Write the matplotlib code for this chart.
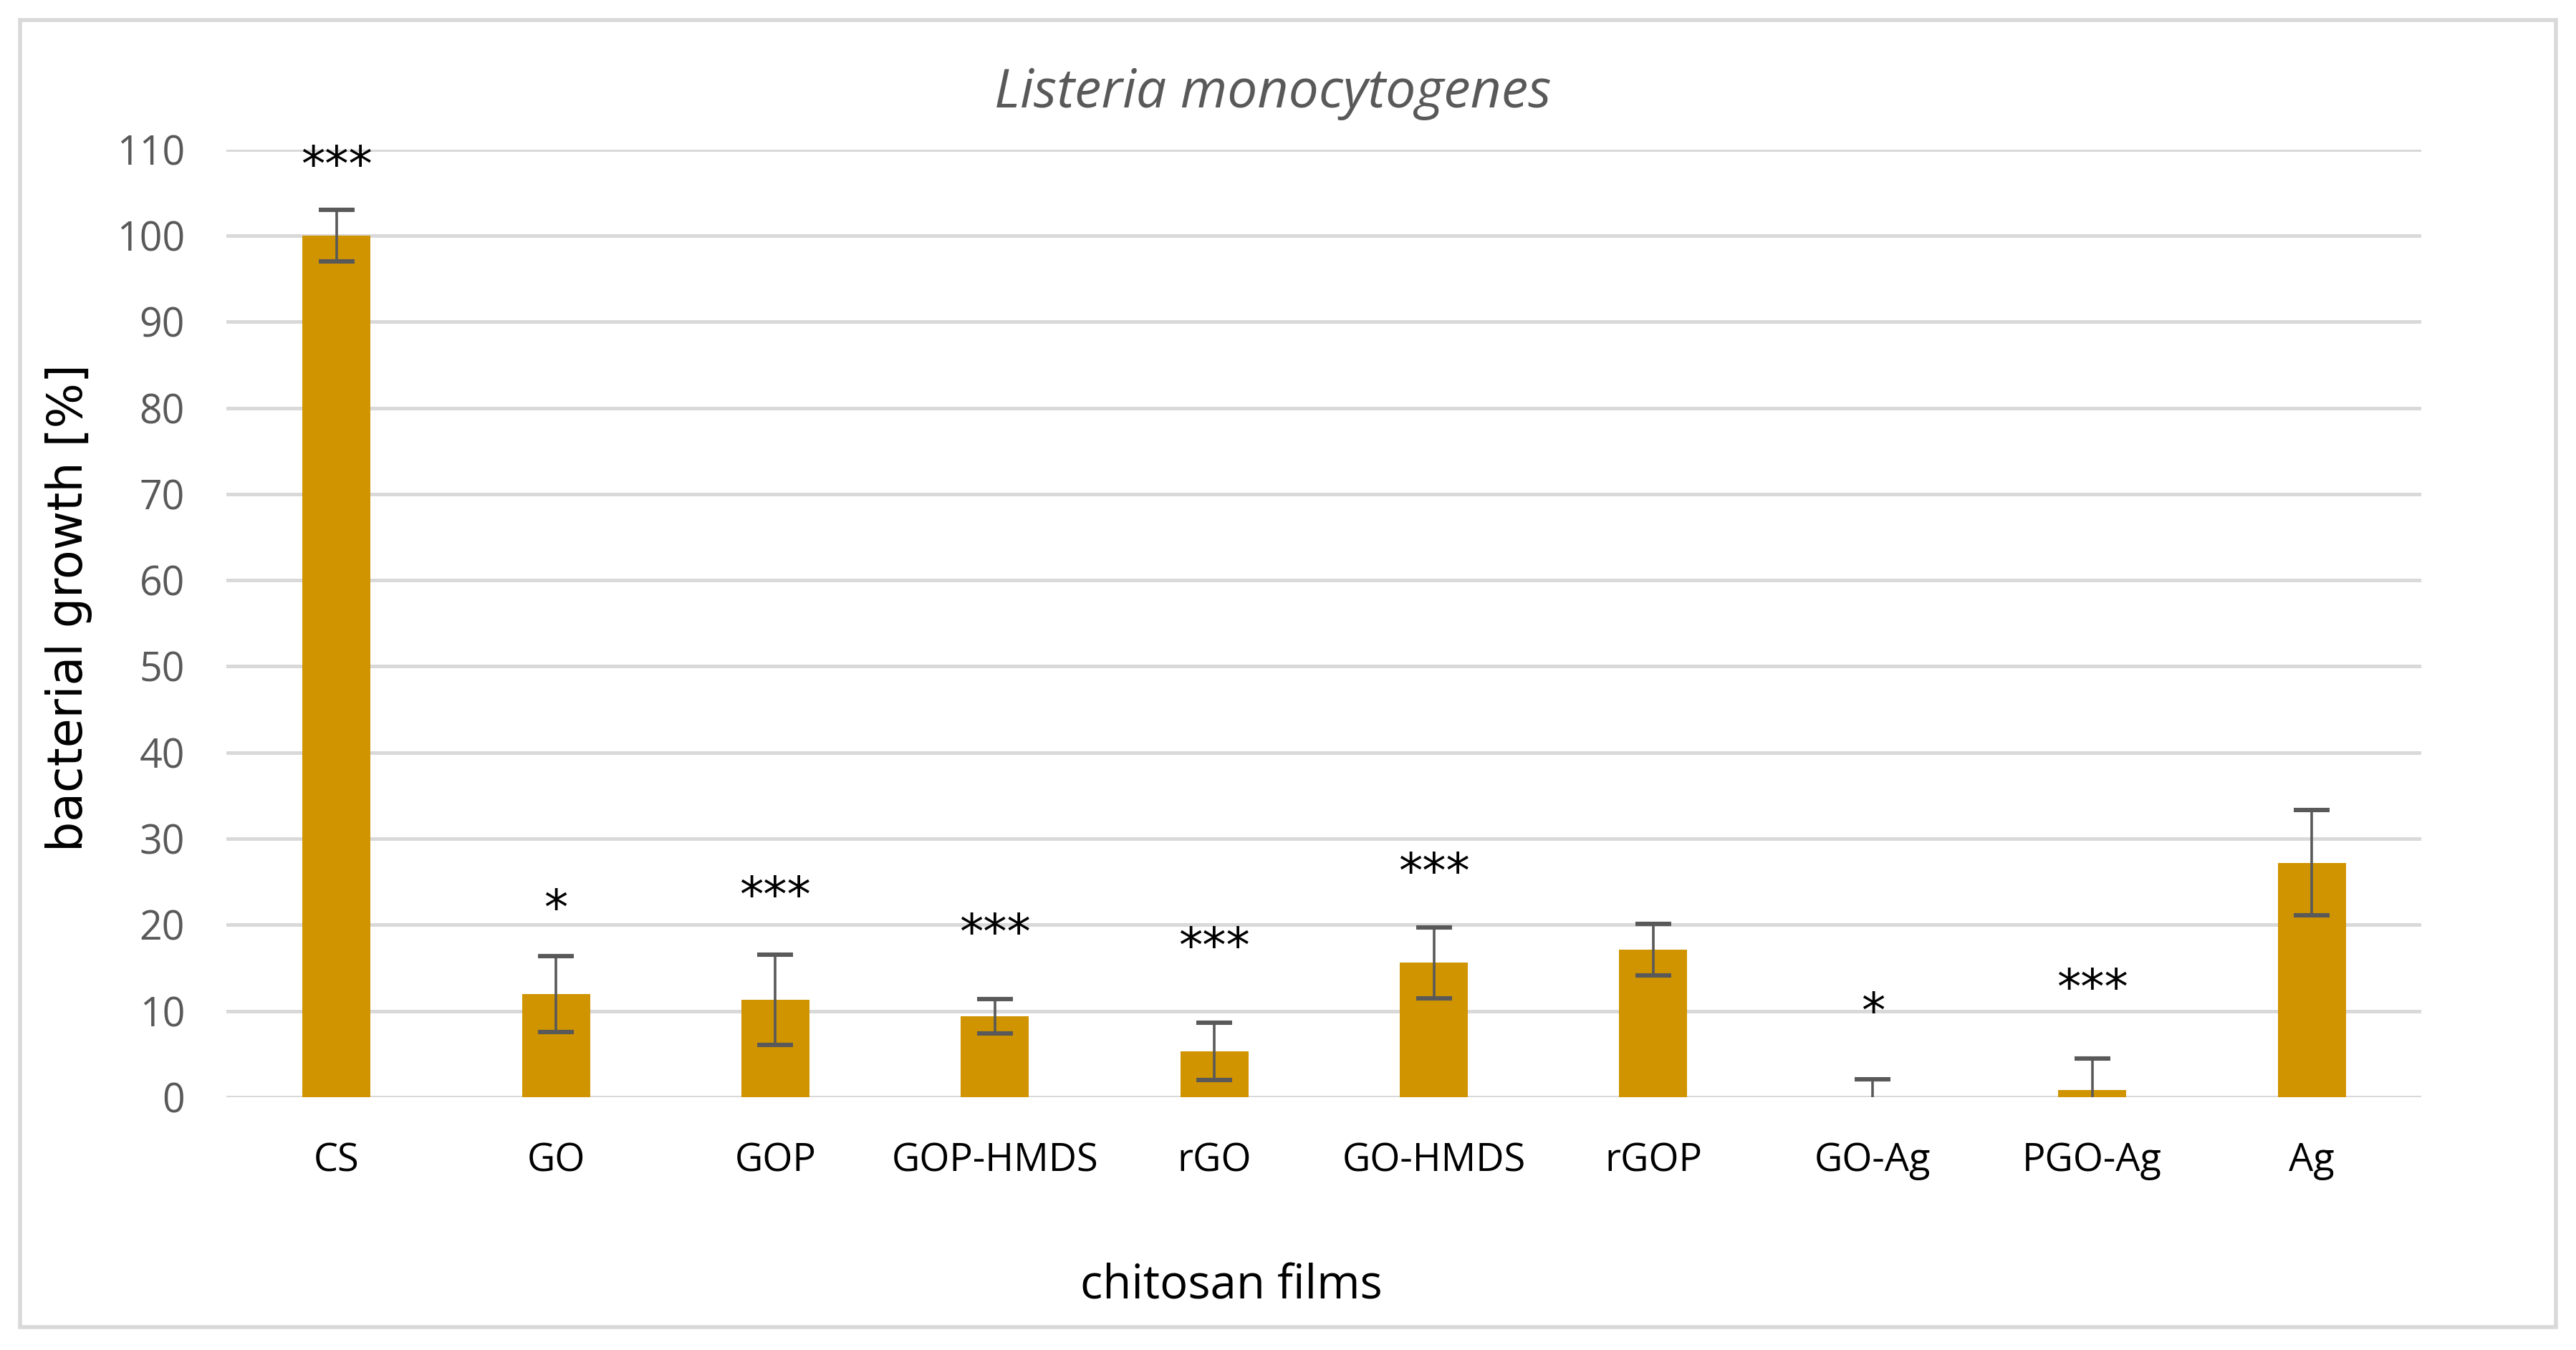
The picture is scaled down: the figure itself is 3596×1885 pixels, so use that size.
import numpy as np
import matplotlib
matplotlib.use("Agg")
import matplotlib.pyplot as plt
from matplotlib.patches import Rectangle

# data
films = ["CS", "GO", "GOP", "GOP-HMDS", "rGO", "GO-HMDS", "rGOP", "GO-Ag", "PGO-Ag", "Ag"]
growth = [100.0, 12.0, 11.3, 9.4, 5.3, 15.6, 17.1, 0.0, 0.8, 27.2]
growth_err = [3.0, 4.4, 5.2, 2.0, 3.3, 4.1, 3.0, 2.1, 3.7, 6.1]
signif = ["***", "*", "***", "***", "***", "***", "", "*", "***", ""]
signif_y = [108.0, 21.7, 23.2, 18.9, 17.3, 25.9, 0, 9.7, 12.5, 0]

BAR_COLOR = "#CF9400"
GRID_COLOR = "#D9D9D9"
TEXT_GRAY = "#595959"

plt.rcParams["font.family"] = ["Open Sans", "DejaVu Sans"]

fig = plt.figure(figsize=(17.98, 9.425), dpi=200)
ax = fig.add_axes([0.0880, 0.1873, 0.8520, 0.702])

x = np.arange(len(films))
ax.bar(x, growth, width=0.31, color=BAR_COLOR, zorder=2)
ax.errorbar(x, growth, yerr=growth_err, fmt="none", ecolor=TEXT_GRAY,
            elinewidth=1.3, capsize=9, capthick=2.2, zorder=3)

for xi, s, sy in zip(x, signif, signif_y):
    if s:
        ax.text(xi, sy, s, ha="center", va="center", fontsize=24,
                color="black", family="DejaVu Sans")

ax.set_xlim(-0.5, len(films) - 0.5)
ax.set_ylim(0, 110)
ax.set_yticks(np.arange(0, 111, 10))
ax.yaxis.grid(True, color=GRID_COLOR, linewidth=1.8, zorder=0)
ax.set_axisbelow(True)
for sp in ax.spines.values():
    sp.set_visible(False)

ax.tick_params(axis="y", length=0, pad=21, labelsize=20, labelcolor=TEXT_GRAY)
ax.tick_params(axis="x", length=0, pad=22, labelsize=19.5, labelcolor="black")
ax.set_xticks(x)
ax.set_xticklabels(films)

# axis titles and chart title placed on the figure, as in the source layout
fig.text(0.478, 0.0474, "chitosan films", ha="center", va="center", fontsize=23.5)
fig.text(0.0268, 0.55, "bacterial growth [%]", ha="center", va="center",
         rotation=90, fontsize=24, family="DejaVu Sans")
fig.text(0.494, 0.9307, "Listeria monocytogenes", ha="center", va="center",
         fontsize=27, style="italic", color=TEXT_GRAY)

# light outer frame around the whole chart
fig.patches.append(Rectangle((0.0077, 0.017), 0.9846, 0.9684, transform=fig.transFigure,
                             fill=False, edgecolor=GRID_COLOR, linewidth=2))

plt.savefig("out.png", dpi=200, facecolor="white")
plt.close()
